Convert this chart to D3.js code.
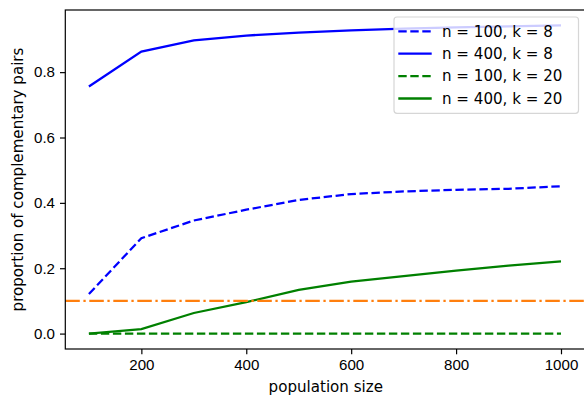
<!DOCTYPE html>
<html>
<head>
<meta charset="utf-8">
<script src="https://cdn.jsdelivr.net/npm/d3@7"></script>
<style>
  body { margin: 0; background: #fff; }
  svg { display: block; font-family: "DejaVu Sans", sans-serif; }
  .axis path, .axis line { stroke: #000; stroke-width: 1.2px; }
  .axis text { font-size: 15.1px; fill: #000; }
</style>
</head>
<body>
<div id="chart"></div>
<script>
// population sizes on the x axis
var popSizes = [100, 200, 300, 400, 500, 600, 700, 800, 900, 1000];

// proportion of complementary pairs, one array per series
var n100k8  = [0.121, 0.292, 0.346, 0.379, 0.409, 0.427, 0.435, 0.440, 0.443, 0.451];
var n400k8  = [0.756, 0.863, 0.897, 0.912, 0.921, 0.928, 0.933, 0.937, 0.940, 0.943];
var n100k20 = [0.000, 0.000, 0.000, 0.000, 0.000, 0.000, 0.000, 0.000, 0.000, 0.000];
var n400k20 = [0.000, 0.014, 0.063, 0.096, 0.134, 0.159, 0.176, 0.193, 0.208, 0.221];

var threshold = 0.1;

var xTicks = [200, 400, 600, 800, 1000];
var yTicks = [0.0, 0.2, 0.4, 0.6, 0.8];

var series = [
    {label: 'n = 100, k = 8',  values: n100k8,  color: '#0000ff', dash: '8.4,3.6'},
    {label: 'n = 400, k = 8',  values: n400k8,  color: '#0000ff', dash: null},
    {label: 'n = 100, k = 20', values: n100k20, color: '#008000', dash: '8.4,3.6'},
    {label: 'n = 400, k = 20', values: n400k20, color: '#008000', dash: null}
];

(function() {
    var W = 584, H = 397,
        mLeft = 65.3, mTop = 10, mRight = 584.6, mBottom = 349,
        fs = 15.1, lineW = 2.27;

    var svg = d3.select('#chart').append('svg')
        .attr('width', W)
        .attr('height', H);

    // matplotlib style 5% margins around the data
    var xmin = 100, xmax = 1000, xpad = (xmax - xmin) * 0.05;
    var ymin = 0, ymax = d3.max(n400k8), ypad = (ymax - ymin) * 0.05;

    var x = d3.scaleLinear()
        .domain([xmin - xpad, xmax + xpad])
        .range([mLeft, mRight]);

    var y = d3.scaleLinear()
        .domain([ymin - ypad, ymax + ypad])
        .range([mBottom, mTop]);

    var plot = svg.append('g');

    var line = d3.line()
        .x(function(d, i) { return x(popSizes[i]); })
        .y(function(d) { return y(d); });

    plot.selectAll('.series')
        .data(series)
        .enter()
        .append('path')
        .attr('class', 'series')
        .attr('d', function(d) { return line(d.values); })
        .attr('fill', 'none')
        .attr('stroke', function(d) { return d.color; })
        .attr('stroke-width', lineW)
        .attr('stroke-dasharray', function(d) { return d.dash; });

    // threshold line across whole axes
    plot.append('line')
        .attr('x1', mLeft).attr('x2', mRight)
        .attr('y1', y(threshold)).attr('y2', y(threshold))
        .attr('stroke', '#ff7f0e')
        .attr('stroke-width', lineW)
        .attr('stroke-dasharray', '14.5,3.6,2.3,3.6');

    // axes
    var xAxis = d3.axisBottom(x)
        .tickValues(xTicks)
        .tickFormat(d3.format('d'))
        .tickSize(5.3)
        .tickPadding(5)
        .tickSizeOuter(0);

    svg.append('g')
        .attr('class', 'x axis')
        .attr('transform', 'translate(0,' + mBottom + ')')
        .call(xAxis)
        .select('.domain').remove();

    var yAxis = d3.axisLeft(y)
        .tickValues(yTicks)
        .tickFormat(d3.format('.1f'))
        .tickSize(5.3)
        .tickPadding(5)
        .tickSizeOuter(0);

    svg.append('g')
        .attr('class', 'y axis')
        .attr('transform', 'translate(' + mLeft + ',0)')
        .call(yAxis)
        .select('.domain').remove();

    // frame
    svg.append('rect')
        .attr('x', mLeft).attr('y', mTop)
        .attr('width', mRight - mLeft).attr('height', mBottom - mTop)
        .attr('fill', 'none')
        .attr('stroke', '#000')
        .attr('stroke-width', 1.2);

    // axis labels
    svg.append('text')
        .attr('x', 325.8)
        .attr('y', 392)
        .attr('text-anchor', 'middle')
        .style('font-size', fs + 'px')
        .text('population size');

    svg.append('text')
        .attr('transform', 'translate(22.5,' + ((mTop + mBottom) / 2) + ') rotate(-90)')
        .attr('text-anchor', 'middle')
        .style('font-size', fs + 'px')
        .text('proportion of complementary pairs');

    // legend
    var lx = 394, ly = 17, lw = 184.5, lh = 96.3, rowH = 22.4;

    var legend = svg.append('g');

    legend.append('rect')
        .attr('x', lx).attr('y', ly)
        .attr('width', lw).attr('height', lh)
        .attr('rx', 3)
        .attr('fill', '#fff')
        .attr('fill-opacity', 0.8)
        .attr('stroke', '#d6d6d6')
        .attr('stroke-width', 1.2);

    var items = legend.selectAll('.item')
        .data(series)
        .enter()
        .append('g')
        .attr('class', 'item')
        .attr('transform', function(d, i) { return 'translate(0,' + (ly + 14.3 + i * rowH) + ')'; });

    items.append('line')
        .attr('x1', lx + 4.3).attr('x2', lx + 37.7)
        .attr('y1', 0).attr('y2', 0)
        .attr('stroke', function(d) { return d.color; })
        .attr('stroke-width', lineW)
        .attr('stroke-dasharray', function(d) { return d.dash; });

    items.append('text')
        .attr('x', lx + 48)
        .attr('dy', '0.35em')
        .style('font-size', fs + 'px')
        .text(function(d) { return d.label; });
})();
</script>
</body>
</html>
